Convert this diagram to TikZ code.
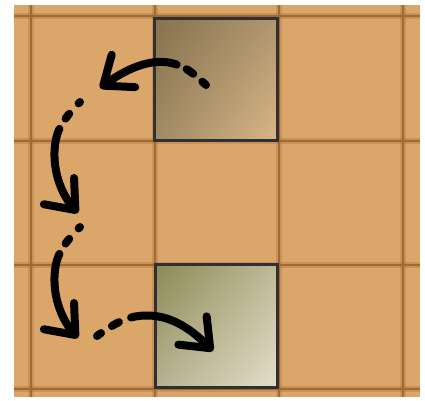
\documentclass[tikz,border=0pt]{standalone}
\usetikzlibrary{arrows.meta,shadings}

\definecolor{sand}{RGB}{219,166,105}
\definecolor{groove}{RGB}{160,104,52}
\definecolor{frame}{RGB}{46,48,50}
\definecolor{claydark}{RGB}{133,114,78}
\definecolor{claymidA}{RGB}{176,150,110}
\definecolor{claymidB}{RGB}{160,138,100}
\definecolor{claylight}{RGB}{216,182,135}
\definecolor{mossdark}{RGB}{140,137,85}
\definecolor{mossmidA}{RGB}{190,185,150}
\definecolor{mossmidB}{RGB}{182,177,143}
\definecolor{mosslight}{RGB}{227,222,200}

\tikzset{
  groove glow/.style={groove, line width=6pt, opacity=0.3},
  groove line/.style={groove, line width=2.5pt},
  tile/.style={draw=frame, line width=3pt},
  move/.style={line width=8pt, line cap=round,
    -{Straight Barb[length=25pt,width=40pt,round]}},
}

\begin{document}
\begin{tikzpicture}[x=1pt,y=-1pt]
    \useasboundingbox (0,0) rectangle (425,400);
    \fill[white] (0,0) rectangle (425,400);
    \fill[sand] (14,5) rectangle (420,397);

    \foreach \x in {31,155,279,403}{
        \draw[groove glow] (\x,5) -- (\x,397);
        \draw[groove line] (\x,5) -- (\x,397);
    }
    \foreach \y in {16,141,265,389}{
        \draw[groove glow] (14,\y) -- (420,\y);
        \draw[groove line] (14,\y) -- (420,\y);
    }

    \shade[upper left=claydark, upper right=claymidA,
           lower left=claymidB, lower right=claylight]
        (154,18) rectangle (277,140);
    \draw[tile] (154,18) rectangle (277,140);

    \shade[upper left=mossdark, upper right=mossmidA,
           lower left=mossmidB, lower right=mosslight]
        (155,264) rectangle (277,387);
    \draw[tile] (155,264) rectangle (277,387);

    \coordinate (t1) at (206,85);
    \coordinate (h1) at (100,88);
    \coordinate (t2) at (80,102);
    \coordinate (h2) at (78,213);
    \coordinate (t3) at (80,227);
    \coordinate (h3) at (78,338);
    \coordinate (t4) at (97,336);
    \coordinate (h4) at (213,351);

    \draw[move, dash pattern=on 5pt off 12pt on 8pt off 11pt on 2000pt]
        (t1) .. controls (195,75) and (188,68) .. (175,64)
             .. controls (150,56) and (122,72) .. (h1);
    \draw[move, dash pattern=on 2pt off 14pt on 6pt off 12pt on 2000pt]
        (t2) .. controls (72,110) and (61,122) .. (57,135)
             .. controls (50,160) and (58,190) .. (h2);
    \draw[move, dash pattern=on 2pt off 14pt on 6pt off 12pt on 2000pt]
        (t3) .. controls (72,235) and (61,247) .. (57,260)
             .. controls (50,285) and (58,315) .. (h3);
    \draw[move, dash pattern=on 5pt off 13pt on 8pt off 13pt on 2000pt]
        (t4) .. controls (108,328) and (120,320) .. (133,317)
             .. controls (165,310) and (190,328) .. (h4);
\end{tikzpicture}
\end{document}
